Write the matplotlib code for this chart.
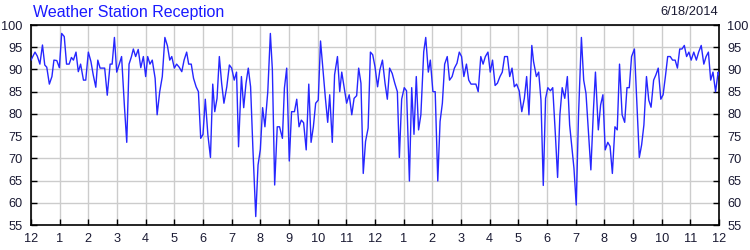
import matplotlib
matplotlib.use("Agg")
import matplotlib.pyplot as plt
import numpy as np

title = "Weather Station Reception"
date_label = "6/18/2014"

hours = [
    0.00, 0.14, 0.22, 0.31, 0.40, 0.48, 0.55, 0.64, 0.73, 0.80, 0.90, 0.99,
    1.07, 1.16, 1.24, 1.33, 1.41, 1.48, 1.57, 1.65, 1.73, 1.83, 1.91,
    2.00, 2.09, 2.17, 2.26, 2.33, 2.41, 2.50, 2.57, 2.66, 2.76, 2.83, 2.91, 2.99,
    3.08, 3.16, 3.26, 3.34, 3.42, 3.50, 3.57, 3.65, 3.74, 3.83, 3.92,
    4.00, 4.07, 4.15, 4.23, 4.33, 4.40, 4.49, 4.58, 4.67, 4.76, 4.84, 4.91,
    5.00, 5.08, 5.17, 5.26, 5.34, 5.43, 5.50, 5.59, 5.67, 5.76, 5.84, 5.92,
    6.00, 6.08, 6.17, 6.26, 6.34, 6.41, 6.49, 6.57, 6.65, 6.73, 6.83, 6.92,
    7.00, 7.09, 7.17, 7.24, 7.34, 7.42, 7.50, 7.58, 7.66, 7.74, 7.84, 7.92,
    8.00, 8.08, 8.16, 8.26, 8.35, 8.42, 8.50, 8.59, 8.67, 8.77, 8.84, 8.92,
    9.01, 9.09, 9.19, 9.27, 9.35, 9.43, 9.51, 9.60, 9.69, 9.77, 9.85, 9.93,
    10.02, 10.10, 10.19, 10.27, 10.35, 10.42, 10.51, 10.59, 10.69, 10.77, 10.84, 10.92,
    11.01, 11.10, 11.19, 11.27, 11.36, 11.43, 11.51, 11.59, 11.67, 11.76, 11.84, 11.92,
    12.00, 12.09, 12.17, 12.26, 12.35, 12.43, 12.51, 12.60, 12.69, 12.78, 12.85, 12.93,
    13.02, 13.10, 13.20, 13.28, 13.36, 13.44, 13.52, 13.60, 13.70, 13.77, 13.86, 13.93,
    14.02, 14.10, 14.19, 14.27, 14.35, 14.43, 14.52, 14.60, 14.69, 14.77, 14.86, 14.94,
    15.02, 15.10, 15.19, 15.27, 15.35, 15.44, 15.52, 15.60, 15.69, 15.77, 15.85, 15.94,
    16.02, 16.10, 16.19, 16.27, 16.36, 16.44, 16.52, 16.62, 16.70, 16.78, 16.86, 16.94,
    17.03, 17.12, 17.21, 17.29, 17.37, 17.47, 17.53, 17.63, 17.71, 17.79, 17.87, 17.95,
    18.03, 18.12, 18.20, 18.29, 18.37, 18.45, 18.53, 18.62, 18.71, 18.79, 18.87, 18.94,
    19.02, 19.10, 19.20, 19.28, 19.36, 19.45, 19.53, 19.62, 19.69, 19.79, 19.87, 19.95,
    20.03, 20.12, 20.20, 20.28, 20.37, 20.45, 20.53, 20.62, 20.71, 20.79, 20.87, 20.95,
    21.05, 21.13, 21.22, 21.30, 21.38, 21.47, 21.55, 21.63, 21.72, 21.80, 21.88, 21.97,
    22.05, 22.13, 22.21, 22.30, 22.38, 22.47, 22.55, 22.63, 22.71, 22.79, 22.87, 22.95,
    23.03, 23.12, 23.21, 23.29, 23.38, 23.47, 23.55, 23.63, 23.71, 23.79, 23.88, 23.97,
    24.00,
]

reception = [
    92.1, 93.9, 93.0, 91.2, 95.5, 91.0, 90.5, 86.7, 88.4, 92.1, 92.0, 90.4,
    98.1, 97.4, 91.2, 91.2, 92.7, 92.1, 93.9, 89.5, 91.2, 87.6, 87.6,
    93.9, 91.8, 88.8, 86.0, 92.1, 90.3, 90.3, 90.3, 84.2, 91.2, 91.2, 97.2, 89.4,
    91.2, 92.9, 81.6, 73.6, 91.2, 92.8, 94.6, 92.9, 94.5, 90.4, 92.9,
    88.4, 92.9, 91.2, 92.1, 88.0, 79.8, 85.0, 88.4, 97.2, 95.3, 92.1, 92.9,
    90.3, 91.2, 90.5, 89.5, 92.1, 93.9, 91.2, 91.2, 88.0, 86.1, 85.0, 74.5,
    75.4, 83.3, 75.3, 70.2, 86.7, 80.5, 83.5, 92.9, 86.9, 82.4, 86.1, 91.0,
    90.3, 87.6, 89.4, 72.6, 88.4, 81.4, 86.9, 90.3, 86.1, 72.3, 56.9, 68.5,
    72.0, 81.4, 77.1, 85.0, 98.1, 89.9, 64.0, 77.1, 77.1, 74.5, 85.8, 90.3,
    69.4, 80.5, 80.5, 83.3, 77.1, 78.6, 78.0, 71.9, 86.7, 73.6, 77.1, 82.4,
    83.1, 96.4, 89.5, 83.5, 78.1, 84.3, 73.6, 88.8, 92.9, 85.0, 89.4, 86.1,
    82.4, 84.3, 79.8, 83.5, 84.1, 90.3, 86.9, 66.6, 73.8, 76.8, 93.9, 93.3,
    90.6, 86.1, 89.9, 92.1, 86.9, 83.3, 90.3, 89.1, 86.9, 85.0, 70.2, 83.3,
    85.9, 85.2, 64.9, 85.9, 75.4, 88.4, 76.4, 79.8, 94.0, 97.2, 89.4, 92.1,
    85.0, 85.0, 64.9, 78.3, 82.4, 91.2, 92.9, 87.6, 88.4, 90.3, 91.4, 93.9,
    92.9, 88.4, 91.2, 87.6, 86.7, 86.7, 86.7, 85.0, 92.9, 91.2, 92.9, 93.9,
    89.4, 92.1, 86.4, 86.9, 88.4, 89.4, 92.9, 92.9, 88.4, 90.3, 86.1, 86.7,
    85.2, 80.5, 83.5, 88.4, 79.8, 95.4, 91.8, 88.4, 89.4, 83.1, 63.9, 83.5,
    85.9, 85.2, 85.9, 75.6, 65.7, 79.8, 85.9, 83.5, 88.4, 77.5, 72.3, 67.8,
    59.5, 79.8, 97.2, 87.6, 84.6, 75.3, 67.4, 80.9, 89.4, 76.4, 82.0, 84.3,
    71.9, 73.6, 72.7, 66.6, 77.1, 76.4, 91.2, 79.8, 78.1, 85.9, 85.9, 92.9,
    94.6, 83.1, 70.2, 73.0, 77.5, 88.4, 83.1, 81.5, 87.6, 88.8, 90.3, 83.3,
    84.3, 88.4, 92.9, 92.9, 92.1, 92.1, 90.3, 94.6, 94.6, 95.4, 92.9, 93.9,
    92.1, 93.9, 92.1, 93.9, 95.4, 91.2, 92.9, 93.9, 87.6, 89.4, 85.0, 89.4,
    88.8,
]

x_ticks = list(range(0, 25))
x_tick_labels = ["12"] + [str(h) for h in range(1, 12)] + ["12"] + [str(h) for h in range(1, 12)] + ["12"]
y_ticks = list(range(55, 101, 5))

plt.rcParams['font.family'] = ['Liberation Sans', 'DejaVu Sans']

fig = plt.figure(figsize=(7.5, 2.5), dpi=100)
fig.patch.set_facecolor('white')
ax = fig.add_axes([31 / 750, 25 / 250, 688 / 750, 200 / 250])

ax.plot(hours, reception, color='#2626ff', linewidth=1.0, zorder=3)

ax.set_xlim(0, 24)
ax.set_ylim(55, 100)
ax.set_xticks(x_ticks)
ax.set_xticklabels(x_tick_labels)
ax.set_yticks(y_ticks)
ax.set_yticklabels([str(v) for v in y_ticks])

ax.grid(True, color='#cccccc', linewidth=1.0, zorder=0)
ax.set_axisbelow(True)

for s in ax.spines.values():
    s.set_color('black')
    s.set_linewidth(1.2)

ax.tick_params(axis='both', direction='in', length=4, width=1, color='black',
               labelsize=9.2, labelcolor='#1a1a33', pad=6)
ax.tick_params(axis='y', right=True, labelright=True, left=True, labelleft=True)
ax.tick_params(axis='x', top=False, bottom=True, pad=6)

fig.text(33 / 750, 1 - 12 / 250, title, color='#1a1aff', fontsize=11.5,
         ha='left', va='center')
fig.text(718 / 750, 1 - 12 / 250, date_label, color='#1a1a33', fontsize=9.3,
         ha='right', va='center')

fig.savefig('out.png', dpi=100, facecolor='white')
